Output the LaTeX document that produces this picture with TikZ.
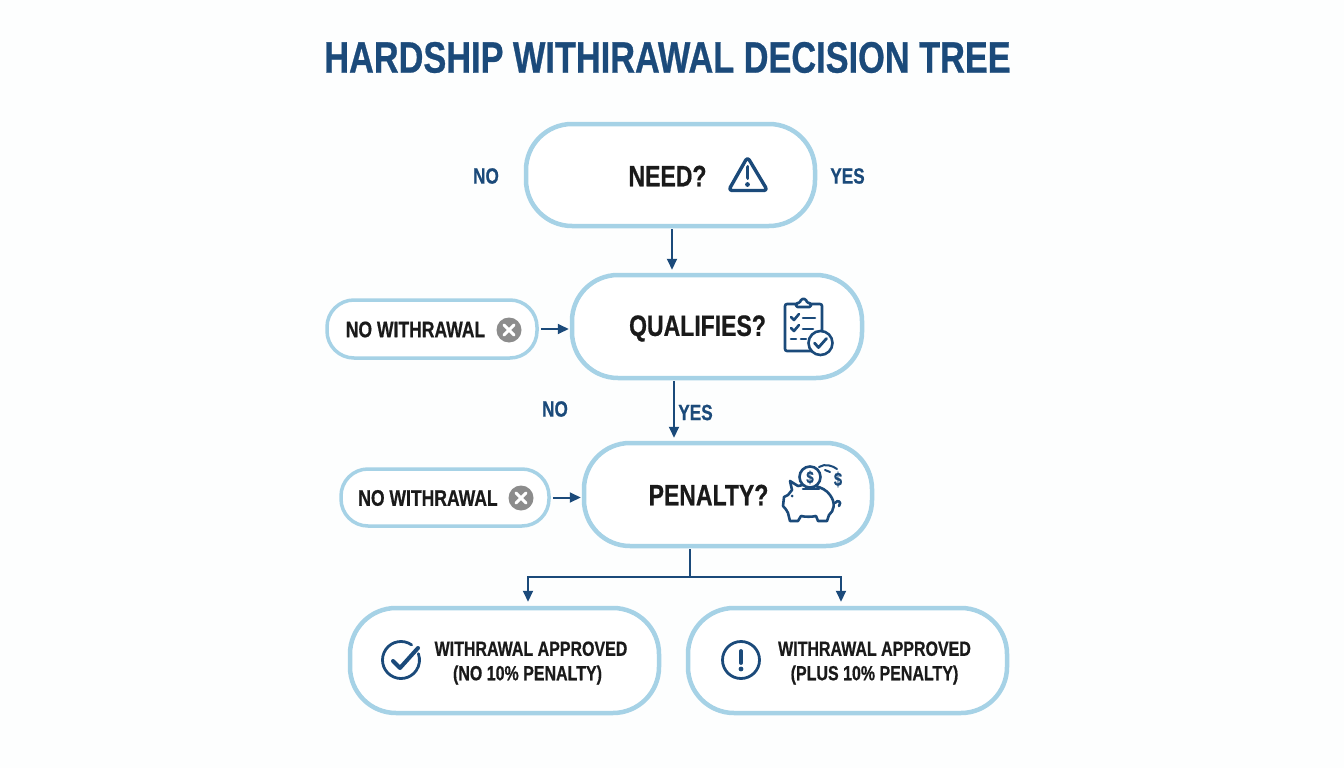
\documentclass[tikz,border=0pt]{standalone}
\usepackage{fontspec}
\setmainfont{Liberation Sans}[FakeStretch=0.78,BoldFont={Liberation Sans Bold},BoldFeatures={FakeBold=0.6}]
\usetikzlibrary{arrows.meta}
\definecolor{navy}{HTML}{1B4A7A}
\definecolor{sky}{HTML}{A6D2E6}
\definecolor{ink}{HTML}{1A1A1A}
\definecolor{greyx}{HTML}{8C8C8C}
\definecolor{paper}{HTML}{FDFEFE}
\tikzset{
  pill/.style={draw=sky,line width=4.5pt,fill=white,rounded corners=#1,inner sep=0pt},
  pill/.default=46pt,
  thinpill/.style={draw=sky,line width=3.5pt,fill=white,rounded corners=27pt,inner sep=0pt},
  lbl/.style={font=\fontsize{29.5}{30}\selectfont\bfseries,text=ink,inner sep=0pt},
  smalllbl/.style={font=\fontsize{22.5}{24}\selectfont\bfseries,text=ink,inner sep=0pt},
  outcome/.style={font=\fontsize{20.5}{24.5}\selectfont\bfseries,text=ink,inner sep=0pt,align=center},
  branch/.style={font=\fontsize{22}{24}\selectfont\bfseries,text=navy,inner sep=0pt},
  flow/.style={draw=navy,line width=2pt,-{Stealth[length=11pt,width=10pt,inset=0pt]}},
  trunk/.style={draw=navy,line width=2pt},
  icon/.style={draw=navy,line width=2.6pt,line cap=round,line join=round},
  thickicon/.style={draw=navy,line width=3.4pt,line cap=round,line join=round},
}
\begin{document}
\begin{tikzpicture}[x=1pt,y=-1pt]
\useasboundingbox (0,0) rectangle (1344,768);
\fill[paper] (0,0) rectangle (1344,768);
\node[font=\fontsize{44}{46}\selectfont\bfseries,text=navy,inner sep=0pt] (title) at (667.5,57.5) {HARDSHIP WITHIRAWAL DECISION TREE};

% main pills
\node[pill,minimum width=289pt,minimum height=102pt] (need) at (670.5,175) {};
\node[pill,minimum width=290pt,minimum height=103pt] (qual) at (717,326.5) {};
\node[pill,minimum width=288pt,minimum height=103pt] (pen) at (728,494.5) {};
\node[thinpill,minimum width=210pt,minimum height=58pt] (nw1) at (432,329) {};
\node[thinpill,minimum width=208pt,minimum height=57pt] (nw2) at (445,497.5) {};
\node[pill,minimum width=309pt,minimum height=105pt] (ok) at (504.5,660.5) {};
\node[pill,minimum width=319pt,minimum height=105pt] (plus) at (847.5,660.5) {};

% texts
\node[lbl] (needt) at (667.5,176) {NEED?};
\node[lbl] (qualt) at (697.5,328.5) {QUALIFIES?};
\node[lbl] (pent) at (708.5,495) {PENALTY?};
\node[smalllbl] (nw1t) at (415.5,329.5) {NO WITHRAWAL};
\node[smalllbl] (nw2t) at (428,498) {NO WITHRAWAL};
\node[outcome] (okt) at (531,663) {WITHRAWAL APPROVED\\\kern-7pt(NO 10\% PENALTY)};
\node[outcome] (plust) at (874.5,663) {WITHRAWAL APPROVED\\(PLUS 10\% PENALTY)};
\node[branch] (no1) at (486,176) {NO};
\node[branch] (yes1) at (847.5,176) {YES};
\node[branch] (no2) at (555,409) {NO};
\node[branch] (yes2) at (695.5,412.5) {YES};

% connectors
\draw[flow] ([xshift=1.5pt,yshift=-1pt]need.south) -- ([xshift=-45pt,yshift=3pt]qual.north);
\draw[flow] ([xshift=2pt]nw1.east) -- ([xshift=-1pt]nw1.east -| qual.west);
\draw[flow] ([xshift=-43pt,yshift=-1pt]qual.south) -- ([xshift=-54pt,yshift=3pt]pen.north);
\draw[flow] ([xshift=2pt]nw2.east) -- ([xshift=-1pt]nw2.east -| pen.west);
\draw[trunk] ([xshift=-38pt,yshift=-1pt]pen.south) -- ++(0,27.5) coordinate (fork);
\draw[flow] (fork) -| ([xshift=23.5pt,yshift=4pt]ok.north);
\draw[flow] (fork) -| ([xshift=-6.5pt,yshift=4pt]plus.north);

% warning icon
\draw[thickicon,rounded corners=3.5pt] (747.5,157) -- (767.5,190.5) -- (728.5,190.5) -- cycle;
\draw[navy,line width=3.8pt,line cap=round] (747.5,167) -- (747.5,178);
\fill[navy] (747.5,184.5) circle (2.4pt);

% clipboard icon
\draw[icon,rounded corners=2pt] (797,304) -- (785,304) -- (785,351) -- (822,351) -- (822,304) -- (810,304);
\draw[icon,rounded corners=1.5pt] (796,307) -- (796,303) -- (800,303) -- (801,299) -- (806,299) -- (807,303) -- (811,303) -- (811,307) -- cycle;
\draw[icon] (791,317) -- (794,320) -- (799,314);
\draw[icon] (791,328) -- (794,331) -- (799,325);
\draw[icon] (803,318) -- (815,318);
\draw[icon] (803,329) -- (813,329);
\draw[icon] (791,339) -- (796,339);
\draw[icon] (801,339) -- (806,339);
\draw[icon,fill=white] (820.5,343) circle (12pt);
\draw[icon,line width=2.8pt] (814.5,343) -- (818.5,347.5) -- (826.5,338.5);

% piggy bank icon
\draw[icon,fill=white] (792,490) -- (790,481) -- (798,486) .. controls (808,483) and (824,486) .. (830,495)
  .. controls (836,503) and (834,511) .. (829,515) -- (827,521) -- (818,521) -- (816,516)
  .. controls (812,517) and (805,517) .. (801,516) -- (798,521) -- (790,521) -- (788,513)
  .. controls (786,509) and (784,507) .. (783,506) -- (784,497) -- (788,495) -- cycle;
\fill[navy] (792,496) circle (1.5pt);
\draw[icon] (803,489) -- (819,489);
\draw[icon] (835,503) .. controls (838,499) and (842,502) .. (839,506);
\draw[icon,fill=white] (810,477) circle (10.5pt);
\node[font=\fontsize{17}{17}\selectfont\bfseries,text=navy,inner sep=0pt] (coin) at (810,477.5) {\$};
\node[font=\fontsize{19}{19}\selectfont\bfseries,text=navy,inner sep=0pt] (cash) at (838,479.5) {\$};
\draw[icon,line width=2pt] (819,467) .. controls (825,463) and (833,466) .. (837,469);
\draw[icon,line width=2pt] (825,470) -- (830,472);

% cross badges
\foreach \cx/\cy/\nm in {509/330/xa,521/498/xb}{
  \fill[greyx] (\cx,\cy) circle (12.5pt);
  \draw[white,line width=3pt,line cap=round] (\cx-5,\cy-5) -- (\cx+5,\cy+5) (\cx-5,\cy+5) -- (\cx+5,\cy-5);
}

% check badge
\draw[icon,line width=2.8pt] (401,660) ++(55:18.5pt) arc[start angle=55,end angle=380,radius=18.5pt];
\draw[navy,line width=4pt,line cap=round,line join=round] (393,661) -- (400,668) -- (418,648);

% exclamation badge
\draw[icon,line width=2.8pt] (741,660) circle (18.5pt);
\draw[navy,line width=3.8pt,line cap=round] (741,651) -- (741,663);
\fill[navy] (741,669) circle (2.4pt);
\end{tikzpicture}
\end{document}
